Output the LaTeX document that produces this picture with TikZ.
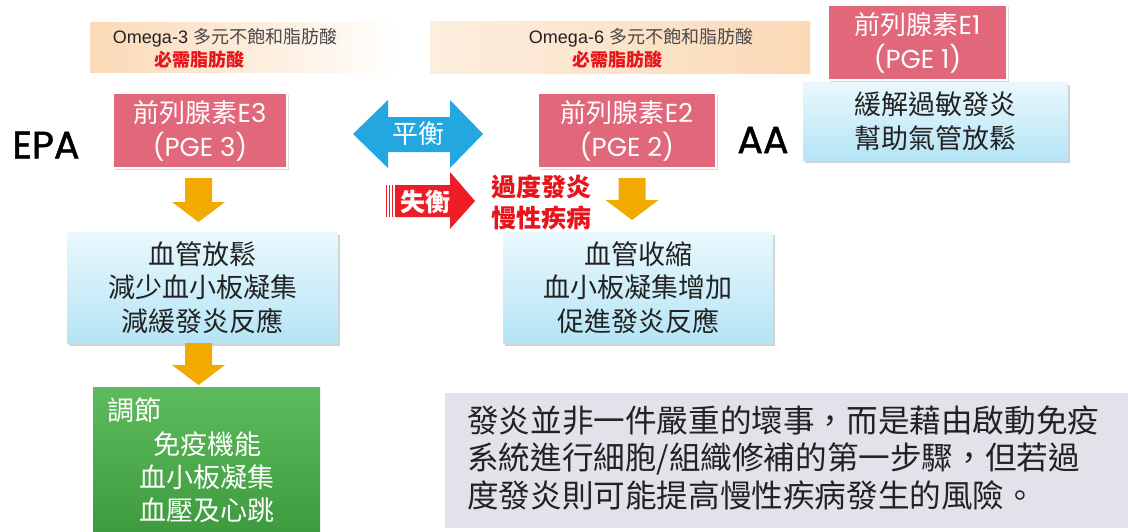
\documentclass[tikz,border=0pt]{standalone}
\usepackage{fontspec}
\setmainfont{Noto Sans CJK TC}
\newfontfamily\pop{Poppins}
\newfontfamily\popsemi[FakeBold=1.3]{Poppins}
\newfontfamily\arial{Liberation Sans}
\usetikzlibrary{shadows}
\definecolor{pinkc}{HTML}{E0687A}
\definecolor{bluetop}{HTML}{EAF8FD}
\definecolor{bluebot}{HTML}{B5E4F5}
\definecolor{greentop}{HTML}{5DBB5D}
\definecolor{greenbot}{HTML}{3E9A3E}
\definecolor{arrorange}{HTML}{F2A900}
\definecolor{balblue}{HTML}{22A7E0}
\definecolor{redc}{HTML}{EE1C24}
\definecolor{redtext}{HTML}{E8141C}
\definecolor{lav}{HTML}{E5E1EB}
\definecolor{peach}{HTML}{FAD9B6}
\definecolor{peachlight}{HTML}{FDEEDF}
\definecolor{textdark}{HTML}{222222}
\definecolor{graytext}{HTML}{4A4A4A}
\begin{document}
\begin{tikzpicture}[x=1pt,y=-1pt,
  pinkbox/.style={rectangle, fill=pinkc, draw=white, line width=2.5pt, text=white, align=center,
    font=\fontsize{26}{34}\selectfont, inner sep=0pt,
    drop shadow={opacity=0.3, shadow xshift=1.5pt, shadow yshift=-2pt}},
  bluebox/.style={rectangle, top color=bluetop, bottom color=bluebot, draw=none, text=textdark, align=center,
    font=\fontsize{27}{33.5}\selectfont, inner sep=0pt,
    drop shadow={opacity=0.35, shadow xshift=2pt, shadow yshift=-2.5pt}},
  greenbox/.style={rectangle, top color=greentop, bottom color=greenbot, draw=none, inner sep=0pt},
  greentext/.style={text=white, align=center, font=\fontsize{27}{33}\selectfont, inner sep=0pt},
  bigabbr/.style={font=\popsemi\fontsize{38}{38}\selectfont, text=black, inner sep=0pt},
  bannertext/.style={font=\fontsize{18}{22}\selectfont, inner sep=0pt},
  redtag/.style={font=\bfseries\fontsize{18}{22}\selectfont, text=redtext, inner sep=0pt},
  downarr/.pic={\fill[arrorange] (-13.5,0) -- (13.5,0) -- (13.5,#1-20) -- (26.5,#1-20) -- (0,#1) -- (-26.5,#1-20) -- (-13.5,#1-20) -- cycle;},
]
\fill[white] (0,0) rectangle (1128,531);
\useasboundingbox (0,0) rectangle (1128,531);

% banners
\node[rectangle, inner sep=0pt, minimum width=312pt, minimum height=50pt,
  left color=peach, middle color=peachlight, right color=white] (ban1) at (246,47) {};
\node[rectangle, inner sep=0pt, minimum width=380pt, minimum height=52pt,
  left color=peachlight, right color=peach] (ban2) at (620,47) {};
\node[bannertext] (om3) at (225,38) {{\arial\color{textdark}Omega-3 }{\color{graytext}多元不飽和脂肪酸}};
\node[redtag] (ess1) at (199,60) {必需脂肪酸};
\node[bannertext] (om6) at (641,38) {{\arial\color{textdark}Omega-6 }{\color{graytext}多元不飽和脂肪酸}};
\node[redtag] (ess2) at (617,60) {必需脂肪酸};

% PGE1 and its effect box
\node[bluebox, minimum width=265pt, minimum height=78pt] (e1eff) at (935.5,121) {緩解過敏發炎\\幫助氣管放鬆};
\node[pinkbox, minimum width=179pt, minimum height=75pt] (pge1) at (917.5,42.5) {前列腺素{\pop E1}\\{\pop(PGE 1)}};

% EPA side
\node[bigabbr] (epa) at (46,145) {EPA};
\node[pinkbox, minimum width=174pt, minimum height=75pt] (pge3) at (200,130.5) {前列腺素{\pop E3}\\{\pop(PGE 3)}};
\node[bluebox, minimum width=271pt, minimum height=111pt] (eff3) at (202.5,287.5) {血管放鬆\\減少血小板凝集\\減緩發炎反應};
\node[greenbox, minimum width=227pt, minimum height=146pt, anchor=north] (green) at (206.5,387) {};
\node[greentext, anchor=west] (reg) at (107,410) {調節};
\node[greentext] (regitems) at (207,477.5) {免疫機能\\血小板凝集\\血壓及心跳};

\pic at (198.5,178) {downarr=44};
\pic at (198.5,343) {downarr=42};

% AA side
\node[bigabbr] (aa) at (763,140) {AA};
\node[pinkbox, minimum width=178pt, minimum height=75pt] (pge2) at (627,130.5) {前列腺素{\pop E2}\\{\pop(PGE 2)}};
\node[bluebox, minimum width=270pt, minimum height=111pt] (eff2) at (638,287.5) {血管收縮\\血小板凝集增加\\促進發炎反應};
\pic at (632,178) {downarr=42};

% balance arrow
\coordinate (bal) at (418,134);
\fill[balblue, shift={(bal)}] (-65,0) -- (-30,-34) -- (-30,-17) -- (32,-17) -- (32,-34) -- (65,0)
  -- (32,34) -- (32,18) -- (-30,18) -- (-30,34) -- cycle;
\node[text=white, font=\fontsize{26}{26}\selectfont, inner sep=0pt] (baltxt) at (bal) {平衡};

% imbalance arrow
\coordinate (imb) at (430,201);
\fill[redc, shift={(imb)}] (-35,-16) -- (20,-16) -- (20,-29) -- (45,0) -- (20,28) -- (20,16) -- (-35,16) -- cycle;
\fill[redc, shift={(imb)}] (-44.5,-16) rectangle (-43,16);
\fill[redc, shift={(imb)}] (-41.5,-16) rectangle (-40,16);
\fill[redc, shift={(imb)}] (-38.5,-16) rectangle (-37,16);
\node[text=white, font=\bfseries\fontsize{25}{25}\selectfont, inner sep=0pt] (imbtxt) at (425,202) {失衡};
\node[text=redtext, font=\bfseries\fontsize{25}{31}\selectfont, align=left, anchor=west, inner sep=0pt] (risk) at (491,202.5) {過度發炎\\慢性疾病};

% note box
\node[rectangle, fill=lav, inner sep=0pt, minimum width=683pt, minimum height=135pt, anchor=north west] (notebox) at (445,393) {};
\node[text=textdark, font=\fontsize{31.6}{37.5}\selectfont, align=left, anchor=west, inner sep=0pt] (note) at (467,457.5)
  {發炎並非一件嚴重的壞事，而是藉由啟動免疫\\系統進行細胞/組織修補的第一步驟，但若過\\度發炎則可能提高慢性疾病發生的風險。};
\end{tikzpicture}
\end{document}
